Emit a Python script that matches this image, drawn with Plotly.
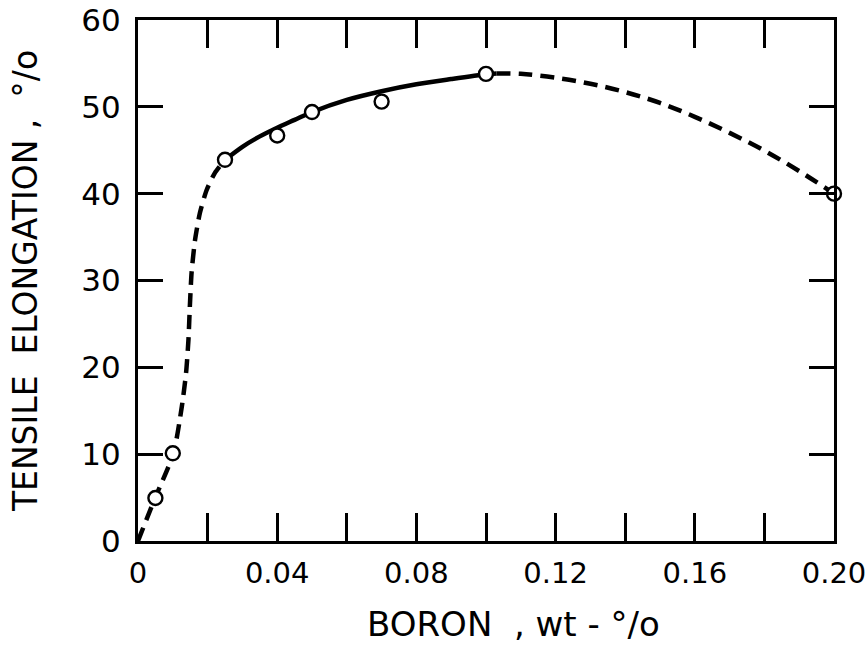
import plotly.graph_objects as go

# Measured data points (open circles)
boron_pts = [0.005, 0.010, 0.025, 0.040, 0.050, 0.070, 0.100, 0.200]
elong_pts = [4.95, 10.1, 43.9, 46.7, 49.4, 50.6, 53.8, 40.0]

# Dashed curve, low boron
curve1_x = [0.0, 0.0049, 0.0102, 0.0126, 0.0138, 0.0145, 0.0149, 0.0154, 0.0164, 0.0178, 0.0197, 0.0221, 0.025]
curve1_y = [0.0, 4.95, 10.1, 15.5, 19.3, 23.2, 27.0, 30.9, 34.7, 37.8, 40.4, 42.4, 43.9]

# Solid curve
curve2_x = [0.025, 0.030, 0.035, 0.040, 0.045, 0.050, 0.060, 0.070, 0.080, 0.090, 0.100, 0.103]
curve2_y = [43.9, 45.4, 46.6, 47.6, 48.5, 49.4, 50.8, 51.8, 52.6, 53.2, 53.75, 53.85]

# Dashed curve, high boron
curve3_x = [0.103, 0.110, 0.120, 0.130, 0.140, 0.150, 0.160, 0.170, 0.180, 0.190, 0.200]
curve3_y = [53.85, 53.8, 53.35, 52.65, 51.7, 50.45, 48.85, 47.0, 44.95, 42.6, 40.0]

x_tickvals = [0.0, 0.02, 0.04, 0.06, 0.08, 0.10, 0.12, 0.14, 0.16, 0.18, 0.20]
x_ticktext = ["0", "", "0.04", "", "0.08", "", "0.12", "", "0.16", "", "0.20"]
y_tickvals = [0, 10, 20, 30, 40, 50, 60]
y_ticktext = ["0", "10", "20", "30", "40", "50", "60"]

x_title = "BORON  , wt - °/o"
y_title = "TENSILE  ELONGATION ,  °/o"

FONT = "DejaVu Sans"

fig = go.Figure()
fig.add_trace(go.Scatter(x=curve1_x, y=curve1_y, mode="lines",
                         line=dict(color="black", width=4.5, dash="14px,8px", shape="spline", smoothing=0.6),
                         showlegend=False, hoverinfo="skip"))
fig.add_trace(go.Scatter(x=curve2_x, y=curve2_y, mode="lines",
                         line=dict(color="black", width=4.5, shape="spline", smoothing=0.8),
                         showlegend=False, hoverinfo="skip"))
fig.add_trace(go.Scatter(x=curve3_x, y=curve3_y, mode="lines",
                         line=dict(color="black", width=4.5, dash="14px,8px", shape="spline", smoothing=1.0),
                         showlegend=False, hoverinfo="skip"))
fig.add_trace(go.Scatter(x=boron_pts, y=elong_pts, mode="markers",
                         marker=dict(symbol="circle", size=14, color="white",
                                     line=dict(color="black", width=2.4)),
                         showlegend=False, cliponaxis=False))

fig.update_layout(
    width=865, height=646,
    margin=dict(l=138, r=31, t=20, b=105, autoexpand=False),
    paper_bgcolor="white", plot_bgcolor="white",
    font=dict(family=FONT, color="black"),
    xaxis=dict(range=[0, 0.20], tickmode="array", tickvals=x_tickvals, ticktext=x_ticktext,
               ticks="inside", ticklen=28, tickwidth=2.5, tickcolor="black",
               showline=True, linewidth=3, linecolor="black", mirror="ticks",
               showgrid=False, zeroline=False, automargin=False,
               ticklabeloverflow="allow",
               tickfont=dict(size=29, family=FONT), ticklabelstandoff=4),
    yaxis=dict(range=[0, 60], tickmode="array", tickvals=y_tickvals, ticktext=y_ticktext,
               ticks="inside", ticklen=25, tickwidth=2.5, tickcolor="black",
               showline=True, linewidth=3, linecolor="black", mirror="ticks",
               showgrid=False, zeroline=False, automargin=False,
               ticklabeloverflow="allow",
               tickfont=dict(size=31, family=FONT), ticklabelstandoff=8,
               title=dict(text=y_title, font=dict(size=33, family=FONT), standoff=34)),
    annotations=[dict(text=x_title, xref="paper", yref="paper", x=0.5, y=0,
                      xshift=27, yshift=-83, xanchor="center", yanchor="middle",
                      showarrow=False, font=dict(size=34, family=FONT))],
)

fig.write_html("out.html")
